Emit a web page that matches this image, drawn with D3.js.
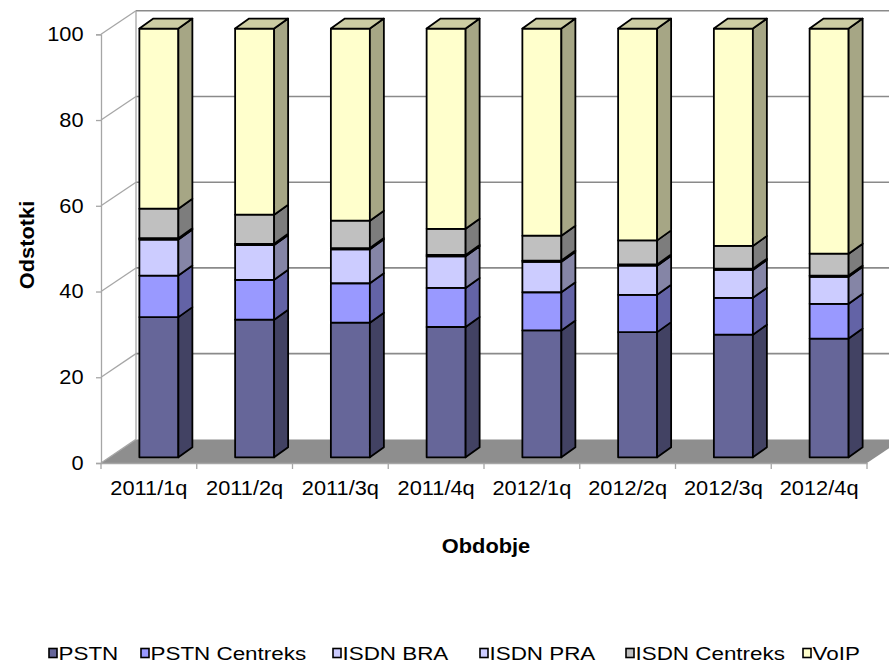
<!DOCTYPE html>
<html>
<head>
<meta charset="utf-8">
<script src="https://cdn.jsdelivr.net/npm/d3@7"></script>
<style>
  body { margin: 0; background: #fff; }
  svg { display: block; font-family: Arial, "Liberation Sans", sans-serif; }
</style>
</head>
<body>
<div id="chart"></div>
<script>
// Periods on the x axis
const periods = ["2011/1q", "2011/2q", "2011/3q", "2011/4q", "2012/1q", "2012/2q", "2012/3q", "2012/4q"];

// Series (percent of total per period)
const seriesNames = ["PSTN", "PSTN Centreks", "ISDN BRA", "ISDN PRA", "ISDN Centreks", "VoIP"];
const pstn         = [32.7, 32.1, 31.4, 30.4, 29.6, 29.2, 28.6, 27.7];
const pstnCentreks = [9.7, 9.3, 9.2, 9.1, 8.9, 8.7, 8.6, 8.1];
const isdnBra      = [8.4, 8.1, 7.9, 7.4, 7.1, 6.8, 6.5, 6.3];
const isdnPra      = [0.3, 0.3, 0.3, 0.3, 0.3, 0.3, 0.3, 0.3];
const isdnCentreks = [6.9, 6.8, 6.4, 6.1, 5.8, 5.6, 5.3, 5.1];
const voip         = [42.0, 43.4, 44.8, 46.7, 48.3, 49.4, 50.7, 52.5];

const yTicks = [0, 20, 40, 60, 80, 100];
const colors = ["#666699", "#9999ff", "#ccccff", "#ccccff", "#c0c0c0", "#ffffcc"];

const width = 889, height = 665;
const fontSize = 20;
const stretch = 1.09;      // text in the picture is a bit wider than plain Arial
const legendStretch = 1.18;

// build rows for the stack
const values = [pstn, pstnCentreks, isdnBra, isdnPra, isdnCentreks, voip];
const rows = periods.map((p, i) => {
  const r = { period: p };
  seriesNames.forEach((s, k) => r[s] = values[k][i]);
  return r;
});
const stacked = d3.stack().keys(seriesNames)(rows);

// front plane scales
const x = d3.scaleBand().domain(periods).range([101, 867]);
const y = d3.scaleLinear().domain([0, 100]).range([463, 34.3]);

// 3d offsets
const wall = { dx: 35, dy: -23.6 };   // depth of the whole box
const barOff = { dx: 10, dy: -5.7 };  // where the bar front sits
const barDepth = { dx: 14, dy: -10 };
const barW = 39;

const svg = d3.select("#chart").append("svg")
    .attr("width", width)
    .attr("height", height)
    .attr("viewBox", [0, 0, width, height]);

const x0 = x.range()[0], x1 = x.range()[1];

// floor
svg.append("path")
    .attr("d", `M${x0},${y(0)}L${x1},${y(0)}L${x1 + wall.dx},${y(0) + wall.dy}L${x0 + wall.dx},${y(0) + wall.dy}Z`)
    .attr("fill", "#8e8e8e");

// back wall gridlines
svg.append("g")
  .selectAll("line")
  .data(yTicks.filter(d => d > 0))
  .join("line")
    .attr("x1", x0 + wall.dx)
    .attr("x2", width)
    .attr("y1", d => y(d) + wall.dy)
    .attr("y2", d => y(d) + wall.dy)
    .attr("stroke", "#8a8a8a")
    .attr("stroke-width", 1.6);

// side wall lines
svg.append("g")
  .selectAll("line")
  .data(yTicks)
  .join("line")
    .attr("x1", x0)
    .attr("y1", d => y(d))
    .attr("x2", x0 + wall.dx)
    .attr("y2", d => y(d) + wall.dy)
    .attr("stroke", "#a6a6a6")
    .attr("stroke-width", 1.3);

// wall vertical
svg.append("line")
    .attr("x1", x0 + wall.dx).attr("x2", x0 + wall.dx)
    .attr("y1", y(0) + wall.dy).attr("y2", y(100) + wall.dy)
    .attr("stroke", "#a6a6a6").attr("stroke-width", 1.3);

// y axis
svg.append("g")
    .attr("transform", `translate(${x0},0)`)
    .call(d3.axisLeft(y).tickValues(yTicks).tickSize(5).tickPadding(11))
    .call(g => g.select(".domain").attr("stroke", "#a6a6a6").attr("stroke-width", 1.3))
    .call(g => g.selectAll(".tick line").attr("stroke", "#a6a6a6").attr("stroke-width", 1.3))
    .call(g => g.selectAll(".tick text")
        .attr("font-size", fontSize)
        .attr("font-family", "Arial, 'Liberation Sans', sans-serif")
        .attr("fill", "#000")
        .attr("transform", `scale(${stretch},1)`));

// x axis
svg.append("g")
    .attr("transform", `translate(0,${y(0)})`)
    .call(d3.axisBottom(x).tickSize(0).tickPadding(18))
    .call(g => g.select(".domain").attr("stroke", "#a6a6a6").attr("stroke-width", 1.3))
    .call(g => g.selectAll(".tick text")
        .attr("font-size", fontSize)
        .attr("font-family", "Arial, 'Liberation Sans', sans-serif")
        .attr("fill", "#000")
        .attr("transform", `scale(${stretch},1)`));

// category boundary ticks
svg.append("g")
  .selectAll("line")
  .data(periods.concat([null]))
  .join("line")
    .attr("x1", (d, i) => x0 + i * x.bandwidth())
    .attr("x2", (d, i) => x0 + i * x.bandwidth())
    .attr("y1", y(0))
    .attr("y2", y(0) + 6)
    .attr("stroke", "#a6a6a6")
    .attr("stroke-width", 1.3);

// shade helper
function shade(c, k) {
  const r = d3.rgb(c);
  return d3.rgb(r.r * k, r.g * k, r.b * k).formatHex();
}

// bars
const bars = svg.append("g")
    .attr("stroke", "#000")
    .attr("stroke-width", 1.8)
    .attr("stroke-linejoin", "round");

periods.forEach((p, i) => {
  const left = x(p) + x.bandwidth() / 2 - barW / 2 + barOff.dx;
  const right = left + barW;
  stacked.forEach((s, k) => {
    const d = s[i];
    const yb = y(d[0]) + barOff.dy, yt = y(d[1]) + barOff.dy;
    const g = bars.append("g");
    // front
    g.append("path")
        .attr("d", `M${left},${yb}L${right},${yb}L${right},${yt}L${left},${yt}Z`)
        .attr("fill", colors[k]);
    // side
    g.append("path")
        .attr("d", `M${right},${yb}L${right + barDepth.dx},${yb + barDepth.dy}L${right + barDepth.dx},${yt + barDepth.dy}L${right},${yt}Z`)
        .attr("fill", shade(colors[k], 0.65));
    // top only on last segment
    if (k === stacked.length - 1) {
      g.append("path")
          .attr("d", `M${left},${yt}L${right},${yt}L${right + barDepth.dx},${yt + barDepth.dy}L${left + barDepth.dx},${yt + barDepth.dy}Z`)
          .attr("fill", shade(colors[k], 0.8));
    }
  });
});

// axis titles
svg.append("text")
    .attr("transform", `translate(486,553) scale(${stretch},1)`)
    .attr("text-anchor", "middle")
    .attr("font-size", fontSize)
    .attr("font-weight", "bold")
    .text("Obdobje");

svg.append("text")
    .attr("transform", `translate(34,245) rotate(-90) scale(${stretch},1)`)
    .attr("text-anchor", "middle")
    .attr("font-size", fontSize)
    .attr("font-weight", "bold")
    .text("Odstotki");

// legend
const legendX = [48, 140, 332, 479, 625, 802];
const legend = svg.append("g")
  .selectAll("g")
  .data(seriesNames)
  .join("g")
    .attr("transform", (d, i) => `translate(${legendX[i]},653)`);

legend.append("rect")
    .attr("x", 1)
    .attr("y", -4.5)
    .attr("width", 8)
    .attr("height", 9)
    .attr("fill", (d, i) => colors[i])
    .attr("stroke", "#000")
    .attr("stroke-width", 1.6);

legend.append("text")
    .attr("transform", `translate(10.5,0) scale(${legendStretch},1)`)
    .attr("dy", "0.35em")
    .attr("font-size", 19)
    .text(d => d);
</script>
</body>
</html>
